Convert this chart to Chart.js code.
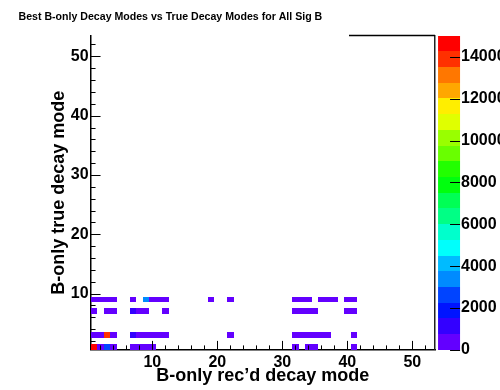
<!DOCTYPE html>
<html>
<head>
<meta charset="utf-8">
<script src="https://cdn.jsdelivr.net/npm/chart.js@4.4.0/dist/chart.umd.min.js"></script>
<style>
  body { margin: 0; background: #fff; }
  canvas { display: block; }
</style>
</head>
<body>
<canvas id="decayChart" width="500" height="390"></canvas>
<script>
// filled bins, written row by row (true mode 9, 7, 3, 1)
var recMode = [
  1, 2, 3, 4, 7, 9, 10, 11, 12, 19, 22, 32, 33, 34, 36, 37, 38, 40, 41,
  1, 3, 4, 7, 8, 9, 12, 32, 33, 34, 35, 40, 41,
  1, 2, 3, 4, 7, 8, 9, 10, 11, 12, 22, 32, 33, 34, 35, 36, 37, 41,
  1, 2, 3, 4, 7, 8, 9, 10, 32, 34, 35, 41
];
var trueMode = [
  9, 9, 9, 9, 9, 9, 9, 9, 9, 9, 9, 9, 9, 9, 9, 9, 9, 9, 9,
  7, 7, 7, 7, 7, 7, 7, 7, 7, 7, 7, 7, 7,
  3, 3, 3, 3, 3, 3, 3, 3, 3, 3, 3, 3, 3, 3, 3, 3, 3, 3,
  1, 1, 1, 1, 1, 1, 1, 1, 1, 1, 1, 1
];
var entries = [
  520, 240, 310, 180, 260, 3400, 450, 380, 220, 120, 140, 330, 210, 160, 280, 190, 150, 240, 170,
  210, 300, 260, 1100, 480, 350, 170, 360, 280, 230, 190, 310, 220,
  460, 390, 13900, 520, 1050, 640, 430, 380, 290, 240, 130, 410, 350, 300, 270, 220, 180, 160,
  14300, 620, 2600, 540, 480, 350, 300, 260, 190, 230, 210, 150
];
var axisLabels = [10, 20, 30, 40, 50];
var zLabels = [0, 2000, 4000, 6000, 8000, 10000, 12000, 14000];

var zMax = Math.max.apply(null, entries) * 1.05;
var nLevels = 20;

var points = recMode.map(function(x, i) {
  return { x: x, y: trueMode[i], v: entries[i] };
});

// ROOT pretty palette (violet -> red), 50 colours, picked for 20 contours
function levelColor(j) {
  var idx = Math.floor((j + 0.99) * 50 / nLevels);
  var hue = 280 - (idx + 1) * 5.6;
  return 'hsl(' + hue + ',100%,50%)';
}
function cellColor(v) {
  return levelColor(Math.min(nLevels - 1, Math.floor(v / zMax * nLevels)));
}

var boldFont = function(size) {
  return { family: "'Liberation Sans', Arial, Helvetica, sans-serif", size: size, weight: 'bold' };
};
var plainLabel = function(v) { return String(v); };

var colz = {
  id: 'colz',
  beforeDatasetsDraw: function(chart) {
    var ctx = chart.ctx, xs = chart.scales.x, ys = chart.scales.y, zs = chart.scales.z;
    ctx.save();
    chart.data.datasets[0].data.forEach(function(p) {
      var x0 = Math.round(xs.getPixelForValue(p.x - 0.5)), x1 = Math.round(xs.getPixelForValue(p.x + 0.5));
      var y0 = Math.round(ys.getPixelForValue(p.y + 0.5)), y1 = Math.round(ys.getPixelForValue(p.y - 0.5));
      ctx.fillStyle = cellColor(p.v);
      ctx.fillRect(x0, y0, x1 - x0, y1 - y0);
    });
    // palette axis
    for (var j = 0; j < nLevels; j++) {
      var top = Math.round(zs.getPixelForValue((j + 1) * zMax / nLevels));
      var bot = Math.round(zs.getPixelForValue(j * zMax / nLevels));
      ctx.fillStyle = levelColor(j);
      ctx.fillRect(zs.left + 3, top, 22, bot - top);
    }
    ctx.restore();
  },
  afterDatasetsDraw: function(chart) {
    var ctx = chart.ctx, xs = chart.scales.x, ys = chart.scales.y, zs = chart.scales.z;
    var area = chart.chartArea;
    ctx.save();
    ctx.strokeStyle = '#000';
    ctx.lineWidth = 1;
    ctx.beginPath();
    for (var v = 2; v <= 53; v += 2) {
      var px = Math.round(xs.getPixelForValue(v)) + 0.5;
      ctx.moveTo(px, area.bottom);
      ctx.lineTo(px, area.bottom - (v % 10 === 0 ? 9 : 4.5));
      var py = Math.round(ys.getPixelForValue(v)) + 0.5;
      ctx.moveTo(area.left, py);
      ctx.lineTo(area.left + (v % 10 === 0 ? 10 : 5), py);
    }
    zLabels.forEach(function(z) {
      var py = Math.round(zs.getPixelForValue(z)) + 0.5;
      ctx.moveTo(zs.left + 25, py);
      ctx.lineTo(zs.left + 15, py);
    });
    ctx.stroke();
    // the bit of frame top not hidden by the title box
    ctx.lineWidth = 1.5;
    ctx.beginPath();
    ctx.moveTo(349, area.top);
    ctx.lineTo(area.right, area.top);
    ctx.stroke();
    ctx.restore();
  }
};

new Chart(document.getElementById('decayChart'), {
  type: 'scatter',
  data: {
    datasets: [{ data: points, xAxisID: 'x', yAxisID: 'y', pointRadius: 0, pointHoverRadius: 0 }]
  },
  options: {
    responsive: false,
    animation: false,
    events: [],
    layout: { padding: { left: 18.5, right: 0, top: 0, bottom: 0 } },
    plugins: {
      legend: { display: false },
      tooltip: { enabled: false },
      title: {
        display: true,
        text: 'Best B-only Decay Modes vs True Decay Modes for All Sig B',
        align: 'start',
        color: '#000',
        font: boldFont(10.6),
        padding: { top: 5.6, bottom: 12.6 }
      }
    },
    scales: {
      x: {
        type: 'linear', position: 'bottom', min: 0.5, max: 53.5, z: 1,
        afterBuildTicks: function(s) { s.ticks = axisLabels.map(function(v) { return { value: v }; }); },
        afterFit: function(s) { s.height = 40.1; },
        grid: { display: false, drawTicks: false },
        border: { display: true, color: '#000', width: 1.5 },
        ticks: { padding: 3, color: '#000', font: boldFont(16), maxRotation: 0, autoSkip: false, callback: plainLabel },
        title: { display: true, text: 'B-only rec\u2019d decay mode', color: '#000', font: boldFont(18), padding: { top: 0, bottom: 2.7 } }
      },
      y: {
        type: 'linear', position: 'left', min: 0.5, max: 53.5, z: 1,
        afterBuildTicks: function(s) { s.ticks = axisLabels.map(function(v) { return { value: v }; }); },
        afterFit: function(s) { s.width = 72.05; },
        grid: { display: false, drawTicks: false },
        border: { display: true, color: '#000', width: 1.5 },
        ticks: { padding: 2, color: '#000', font: boldFont(16), autoSkip: false, callback: plainLabel },
        title: { display: true, text: 'B-only true decay mode', color: '#000', font: boldFont(18), padding: { top: 29.5, bottom: 0 } }
      },
      z: {
        type: 'linear', position: 'right', min: 0, max: zMax, z: 1,
        afterBuildTicks: function(s) { s.ticks = zLabels.map(function(v) { return { value: v }; }); },
        afterFit: function(s) { s.width = 64.95; },
        grid: { display: false, drawTicks: false },
        border: { display: true, color: '#222', width: 1.5 },
        ticks: { padding: 26, color: '#000', font: boldFont(16), autoSkip: false, callback: plainLabel }
      }
    }
  },
  plugins: [colz]
});
</script>
</body>
</html>
